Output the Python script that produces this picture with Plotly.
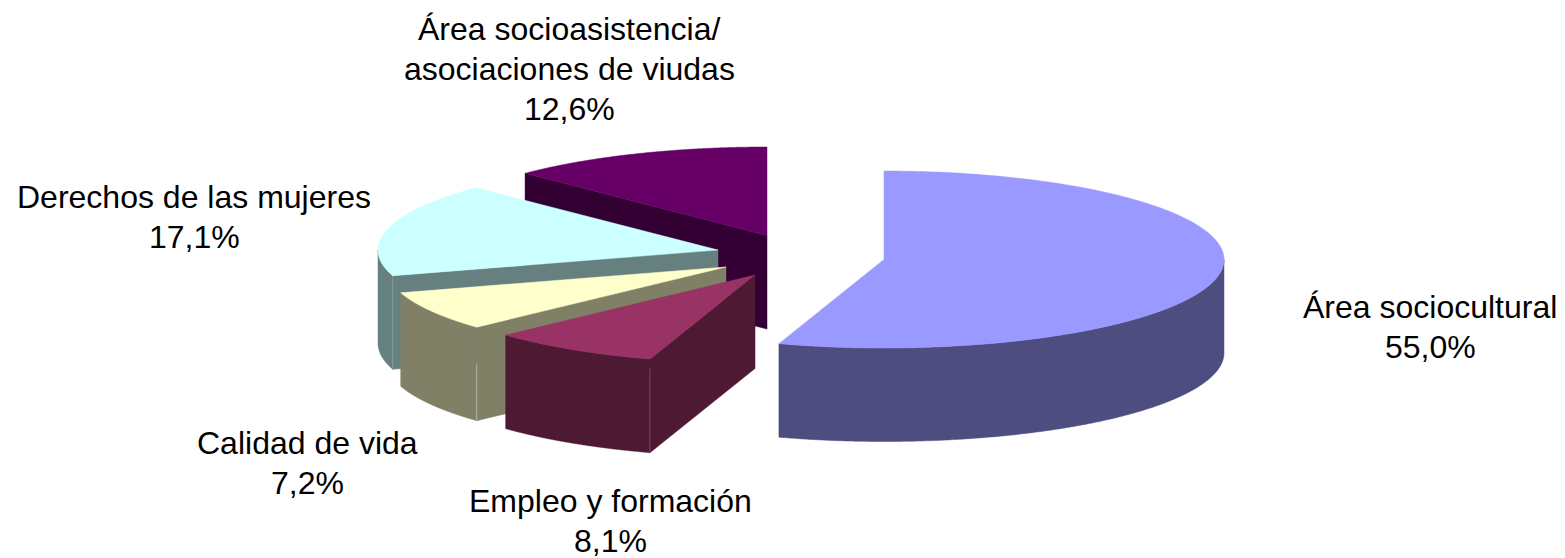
import numpy as np
import plotly.graph_objects as go

# data, in the order the pie goes round clockwise from 12 o'clock
categories = ['Área sociocultural', 'Empleo y formación', 'Calidad de vida',
              'Derechos de las mujeres', 'Área socioasistencia/<br>asociaciones de viudas']
values = [55.0, 8.1, 7.2, 17.1, 12.6]

top_colors = ['#9999FF', '#993366', '#FFFFCC', '#CCFFFF', '#660066']
side_colors = ['#4D4D80', '#4D1933', '#808066', '#668080', '#330033']
edge_colors = ['#4D4D80', '#7A4A60', '#B5B5A5', '#7F9999', '#330033']
seam_start = [0, 0.1, 0.4, 0, 0]

# projected pie, in page pixels
centers_x = [884, 755, 726, 718, 767]
centers_y = [259.5, 275, 267, 250, 235.5]
RX, RY, DEPTH = 340, 88.5, 93.5

label_x = [1430, 610, 307, 194, 569]
label_y = [307, 501, 443, 197, 29]
LINE_H = 40
FONT = dict(family='Liberation Sans, Arial, sans-serif', size=32, color='black')


def rim(cx, cy, a0, a1):
    t = np.radians(np.linspace(a0, a1, 240))
    return cx + RX * np.sin(t), cy - RY * np.cos(t)


def poly(fig, x, y, color):
    fig.add_trace(go.Scatter(
        x=np.append(x, x[0]), y=np.append(y, y[0]),
        mode='lines', fill='toself', fillcolor=color,
        line=dict(color=color, width=0.5, simplify=False),
        hoverinfo='skip', showlegend=False,
    ))


fig = go.Figure()

edges = np.concatenate([[0], np.cumsum(values)]) / sum(values) * 360

# back slices first, the big front one last
for i in reversed(range(len(values))):
    a0, a1 = edges[i], edges[i + 1]
    cx, cy = centers_x[i], centers_y[i]
    rx0, ry0 = rim(cx, cy, a0, a0)

    # cut face on the start side, only if it looks towards us
    if np.sin(np.radians(a0)) < -1e-6:
        poly(fig,
             np.array([cx, rx0[0], rx0[0], cx]),
             np.array([cy, ry0[0], ry0[0] + DEPTH, cy + DEPTH]),
             side_colors[i])

    # outer wall, the part of the rim on the near side
    w0, w1 = max(a0, 90), min(a1, 270)
    if w1 > w0:
        wx, wy = rim(cx, cy, w0, w1)
        poly(fig, np.concatenate([wx, wx[::-1]]),
             np.concatenate([wy, wy[::-1] + DEPTH]), side_colors[i])

    # thin light seam on the front corner
    if 90 < a0 < 270:
        fig.add_trace(go.Scatter(
            x=[rx0[0], rx0[0]], y=[ry0[0] + DEPTH * seam_start[i], ry0[0] + DEPTH],
            mode='lines', line=dict(color=edge_colors[i], width=1),
            hoverinfo='skip', showlegend=False,
        ))

    # top
    tx, ty = rim(cx, cy, a0, a1)
    poly(fig, np.concatenate([[cx], tx]), np.concatenate([[cy], ty]), top_colors[i])

for name, v, lx, ly in zip(categories, values, label_x, label_y):
    lines = name.split('<br>') + [f'{v:.1f}%'.replace('.', ',')]
    for n, line in enumerate(lines):
        fig.add_annotation(x=lx, y=ly + n * LINE_H, text=line, showarrow=False,
                           xanchor='center', yanchor='middle', font=FONT)

fig.update_xaxes(range=[0, 1565], visible=False)
fig.update_yaxes(range=[558, 0], visible=False)
fig.update_layout(
    width=1565, height=558,
    margin=dict(l=0, r=0, t=0, b=0),
    paper_bgcolor='white', plot_bgcolor='white',
    showlegend=False,
)

fig.write_html("out.html", config=dict(displayModeBar=False),
               post_script="document.body.style.margin='0';document.body.style.overflow='hidden';")
